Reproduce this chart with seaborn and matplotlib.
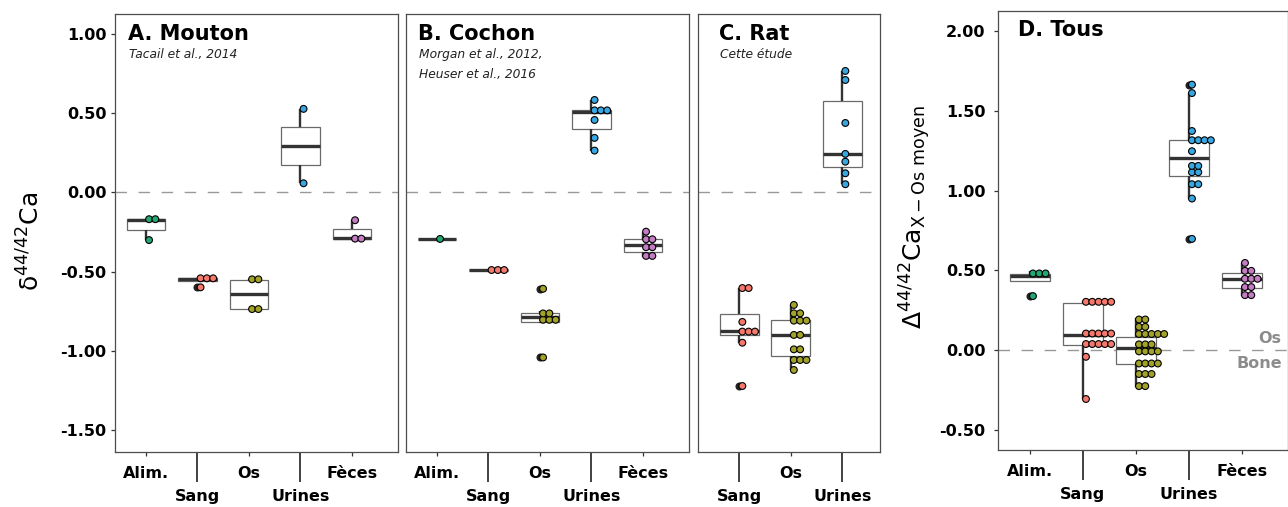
import numpy as np
import pandas as pd
import seaborn as sns
import matplotlib.pyplot as plt
from matplotlib.ticker import FormatStrFormatter

sns.set_style("white")
plt.rcParams["font.family"] = ["DejaVu Sans"]
plt.rcParams["axes.unicode_minus"] = False
plt.rcParams["lines.scale_dashes"] = False
plt.rcParams["text.color"] = "black"
plt.rcParams["axes.labelcolor"] = "black"
plt.rcParams["xtick.labelcolor"] = "black"
plt.rcParams["ytick.labelcolor"] = "black"

cats = ["Alim.", "Sang", "Os", "Urines", "Fèces"]
rat_cats = ["Sang", "Os", "Urines"]
palette = {"Alim.": "#22A873", "Sang": "#F5786C", "Os": "#A3A228",
           "Urines": "#38A6E0", "Fèces": "#C47CC2"}

# A. Mouton (Tacail et al., 2014) - delta 44/42 Ca
mouton_alim = [-0.300, -0.172, -0.165]
mouton_sang = [-0.598, -0.545, -0.540, -0.537]
mouton_os = [-0.738, -0.732, -0.550, -0.545]
mouton_urines = [0.058, 0.527]
mouton_feces = [-0.297, -0.285, -0.175]

# B. Cochon (Morgan et al., 2012, Heuser et al., 2016)
cochon_alim = [-0.293]
cochon_sang = [-0.489, -0.489, -0.489]
cochon_os = [-1.040, -0.822, -0.805, -0.783, -0.775, -0.750, -0.607]
cochon_urines = [0.264, 0.344, 0.457, 0.510, 0.520, 0.525, 0.583]
cochon_feces = [-0.405, -0.395, -0.357, -0.333, -0.300, -0.290, -0.247]

# C. Rat (cette etude)
rat_sang = [-1.220, -0.947, -0.880, -0.877, -0.874, -0.816, -0.605, -0.600]
rat_os = [-1.119, -1.065, -1.056, -1.047, -0.995, -0.983, -0.905, -0.891,
          -0.815, -0.808, -0.801, -0.770, -0.754, -0.709]
rat_urines = [0.052, 0.121, 0.194, 0.243, 0.438, 0.709, 0.766]

# D. Tous - Delta 44/42 Ca (X - Os moyen)
tous_alim = [0.339, 0.464, 0.472, 0.498]
tous_sang = [-0.307, -0.042, 0.020, 0.025, 0.029, 0.045, 0.056,
             0.085, 0.094, 0.100, 0.110, 0.123,
             0.297, 0.300, 0.303, 0.306, 0.309]
tous_os = [-0.230, -0.222, -0.160, -0.150, -0.140,
           -0.095, -0.088, -0.080, -0.073,
           -0.027, -0.010, 0.000, 0.011,
           0.020, 0.035, 0.052,
           0.082, 0.083, 0.084, 0.110, 0.120,
           0.140, 0.152, 0.185, 0.199]
tous_urines = [0.698, 0.951, 1.032, 1.050, 1.105, 1.127, 1.150, 1.162,
               1.248, 1.312, 1.315, 1.318, 1.322, 1.375, 1.613, 1.666]
tous_feces = [0.338, 0.352, 0.381, 0.410, 0.440, 0.452, 0.455,
              0.495, 0.500, 0.547]

mouton = dict(zip(cats, [mouton_alim, mouton_sang, mouton_os, mouton_urines, mouton_feces]))
cochon = dict(zip(cats, [cochon_alim, cochon_sang, cochon_os, cochon_urines, cochon_feces]))
rat = dict(zip(rat_cats, [rat_sang, rat_os, rat_urines]))
tous = dict(zip(cats, [tous_alim, tous_sang, tous_os, tous_urines, tous_feces]))

W, H = 1288, 507
fig = plt.figure(figsize=(W / 100, H / 100), dpi=100)


def dot_stack(vals, binwidth):
    # ggplot-like "dotdensity" binning along y, dots stacked to the right
    vals = np.sort(np.asarray(vals, dtype=float))
    centers, ranks = [], []
    i = 0
    while i < len(vals):
        j = i
        while j < len(vals) and vals[j] < vals[i] + binwidth:
            j += 1
        c = (vals[i] + vals[j - 1]) / 2
        centers += [c] * (j - i)
        ranks += list(range(j - i))
        i = j
    return centers, ranks


def draw_panel(rect, groups, order, xlim, ylim):
    ax = fig.add_axes([rect[0] / W, 1 - rect[3] / H, (rect[1] - rect[0]) / W,
                       (rect[3] - rect[2]) / H])
    df = pd.DataFrame([(i, v) for i, c in enumerate(order) for v in groups[c]],
                      columns=["pos", "val"])
    sns.boxplot(data=df, x="pos", y="val", native_scale=True, orient="x", ax=ax,
                width=0.75, color="white", linecolor="#333333",
                boxprops=dict(facecolor="white", edgecolor="#6A6A6A", linewidth=0.9),
                whiskerprops=dict(color="#333333", linewidth=1.7),
                medianprops=dict(color="#333333", linewidth=2.4),
                showcaps=False,
                flierprops=dict(marker="o", markersize=4.8, markerfacecolor="#222222",
                                markeredgecolor="#222222"))
    ax.axhline(0, color="#999999", lw=1.0, dashes=(8.3, 8.3), zorder=0.5)
    ax.set_xlim(xlim)
    ax.set_ylim(ylim)

    px_per = ax.get_window_extent().width / (xlim[1] - xlim[0])
    rows = []
    for i, c in enumerate(order):
        ys, ranks = dot_stack(groups[c], 0.04)
        for y, r in zip(ys, ranks):
            rows.append((c, i + (r + 0.5) * 6.3 / px_per, y))
    dots = pd.DataFrame(rows, columns=["cat", "x", "y"])
    sns.scatterplot(data=dots, x="x", y="y", hue="cat", palette=palette, s=24,
                    edgecolor="black", linewidth=0.8, legend=False, ax=ax, zorder=4)

    long = [c for c in order if c in ("Sang", "Urines")]
    short = [c for c in order if c not in long]
    ax.set_xticks([order.index(c) for c in short], short)
    ax.set_xticks([order.index(c) for c in long], long, minor=True)
    ax.tick_params(axis="x", which="major", length=3, width=0.9, pad=7,
                   labelsize=11.5, color="#333333", bottom=True)
    ax.tick_params(axis="x", which="minor", length=21.5, width=1.3, pad=5,
                   labelsize=11.5, color="#333333", bottom=True)
    for lab in ax.get_xticklabels(which="both"):
        lab.set_fontweight("bold")
    ax.set_xlabel("")
    ax.set_ylabel("")
    for sp in ax.spines.values():
        sp.set_color("#4D4D4D")
        sp.set_linewidth(0.9)
    return ax


ylim_abc = (-1.636, 1.125)
axA = draw_panel((115, 398, 14, 452), mouton, cats, (-0.6, 4.895), ylim_abc)
axB = draw_panel((406, 689, 14, 452), cochon, cats, (-0.6, 4.895), ylim_abc)
axC = draw_panel((698, 880, 14, 452), rat, rat_cats, (-0.8, 2.734), ylim_abc)
axD = draw_panel((998, 1287.5, 10.7, 450), tous, cats, (-0.6, 4.862), (-0.627, 2.13))

for ax, ticks, pad in [(axA, [-1.5, -1.0, -0.5, 0.0, 0.5, 1.0], 3),
                       (axD, [-0.5, 0.0, 0.5, 1.0, 1.5, 2.0], 6)]:
    ax.set_yticks(ticks)
    ax.yaxis.set_major_formatter(FormatStrFormatter("%.2f"))
    ax.tick_params(axis="y", left=True, length=3, width=0.9, pad=pad,
                   labelsize=11.5, color="#333333")
    for lab in ax.get_yticklabels():
        lab.set_fontweight("bold")
for ax in (axB, axC):
    ax.tick_params(axis="y", left=False, labelleft=False)

axA.set_ylabel("δ$^{44/42}$Ca", fontsize=18)
axA.yaxis.set_label_coords(-0.25, 0.48)
axD.set_ylabel(r"$\Delta^{44/42}$Ca$_{\mathregular{X-Os\ moyen}}$", fontsize=18)
axD.yaxis.set_label_coords(-0.224, 0.53)

titles = [(axA, 0.046, "A. Mouton", "Tacail et al., 2014"),
          (axB, 0.042, "B. Cochon", "Morgan et al., 2012,\nHeuser et al., 2016"),
          (axC, 0.117, "C. Rat", "Cette étude"),
          (axD, 0.068, "D. Tous", None)]
for ax, x, t, sub in titles:
    ax.text(x, 0.955, t, transform=ax.transAxes, fontsize=15, fontweight="bold",
            va="center", ha="left")
    if sub:
        ax.text(x + 0.003, 0.922, sub, transform=ax.transAxes, fontsize=8.8,
                style="italic", va="top", ha="left", linespacing=1.7, color="#222222")

axD.text(0.98, 0.075, "Os", transform=axD.get_yaxis_transform(), ha="right",
         va="center", fontsize=11.5, fontweight="bold", color="#8C8C8C")
axD.text(0.98, -0.082, "Bone", transform=axD.get_yaxis_transform(), ha="right",
         va="center", fontsize=11.5, fontweight="bold", color="#8C8C8C")

fig.savefig("out.png", dpi=100)
